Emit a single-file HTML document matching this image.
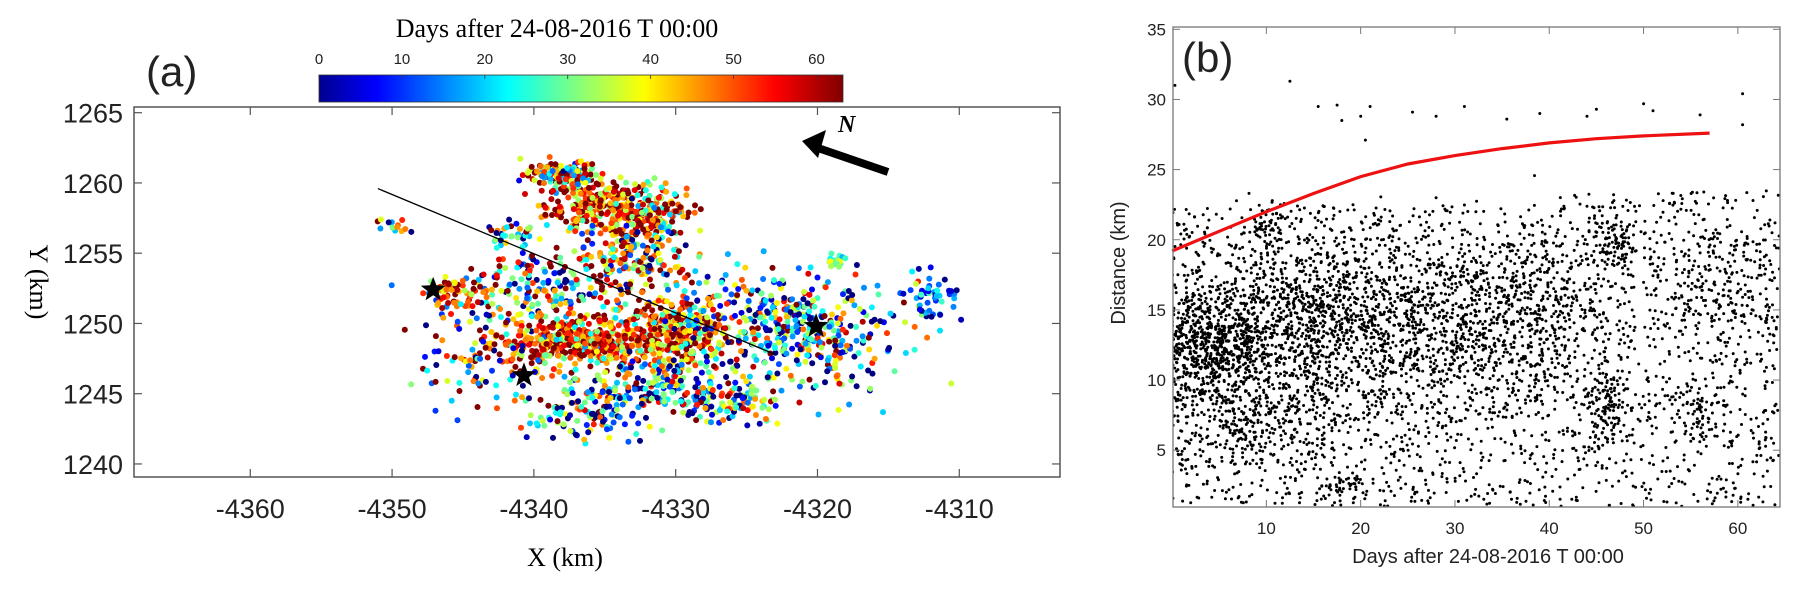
<!DOCTYPE html>
<html><head><meta charset="utf-8">
<style>
html,body{margin:0;padding:0;background:#fff;}
svg{display:block;}
text{font-family:"Liberation Sans",sans-serif;fill:#222;}
.serif{font-family:"Liberation Serif",serif;fill:#000;}
</style></head><body>
<svg id="chart" width="1799" height="590" viewBox="0 0 1799 590" xmlns="http://www.w3.org/2000/svg">
<defs>
<linearGradient id="jet" x1="0" x2="1" y1="0" y2="0">
<stop offset="0" stop-color="#00008f"/><stop offset="0.11" stop-color="#0000ff"/>
<stop offset="0.36" stop-color="#00ffff"/><stop offset="0.62" stop-color="#ffff00"/>
<stop offset="0.87" stop-color="#ff0000"/><stop offset="1" stop-color="#800000"/>
</linearGradient>
<clipPath id="clipA"><rect x="134" y="107" width="926" height="370"/></clipPath>
<clipPath id="clipB"><rect x="1173" y="27" width="607" height="480"/></clipPath>
</defs>
<g id="panelA"></g>
<g id="panelB"></g>
</svg>
<script>
// ---------- Panel A data ----------
const aXTicks = [-4360, -4350, -4340, -4330, -4320, -4310];
const aYTicks = [1240, 1245, 1250, 1255, 1260, 1265];
const cbTicks = [0, 10, 20, 30, 40, 50, 60];
// clusters: [x, y, sx, sy, count, dayMean, daySpread]
const aClusters = [
 [-4338,1260.6,1.4,0.5,130,45,22],
 [-4335.5,1258.3,1.8,0.9,250,52,14],
 [-4331.5,1258.0,1.4,1.1,130,45,20],
 [-4333,1254.8,1.8,1.5,190,38,24],
 [-4339.5,1252.5,2.8,1.4,180,28,26],
 [-4337,1248.7,2.8,0.9,430,50,14],
 [-4330,1249.3,1.8,1.1,300,50,15],
 [-4325,1250.5,3.0,1.8,220,25,25],
 [-4319.5,1249,2.8,1.9,240,25,25],
 [-4332,1245.5,3.2,1.4,230,22,22],
 [-4337,1243.5,1.8,0.9,90,20,25],
 [-4345.5,1252.2,1.0,0.7,60,52,10],
 [-4344,1248,2.2,1.8,80,32,30],
 [-4312,1252,0.9,1.0,50,15,10],
 [-4318.5,1254.4,0.35,0.3,25,30,5],
 [-4350,1256.9,0.7,0.3,14,22,20],
 [-4326,1244.6,2.0,0.8,90,25,25],
 [-4341.5,1256.2,1.0,0.6,30,20,20]
];
const stars = [[-4347.1,1252.4],[-4340.7,1246.3],[-4320.1,1249.8]];
const faultLine = [[-4351,1259.6],[-4323,1247.8]];
// ---------- Panel B data ----------
const bXTicks = [10, 20, 30, 40, 50, 60];
const bYTicks = [5, 10, 15, 20, 25, 30, 35];
const curveDays = [0, 5, 10, 15, 20, 25, 30, 35, 40, 45, 50, 57];
const curveDist = [19.2, 20.6, 22.0, 23.3, 24.5, 25.4, 26.0, 26.5, 26.9, 27.2, 27.4, 27.6];
// clusters: [day, dist, sday, sdist, count]
const bClusters = [
 [4,12.5,3.5,2.0,750],
 [15,14.2,5.5,3.0,850],
 [30,14.0,7,3.2,700],
 [40,14.5,4,3,250],
 [47,19.6,1.5,1.0,100],
 [46,8.0,1.3,1.5,120],
 [55.5,8.0,1.8,1.0,80],
 [10,21.2,1.0,1.0,40],
 [8,7.0,5,2.0,300],
 [58,17,4,2.5,180],
 [18,2.2,2,0.6,45]
];
const bBackground = 2200;
const bOutliers = [[0.3,31],[12.5,31.3],[15.5,29.5],[17.5,29.6],[20,28.8],[21,29.5],[25.5,29.1],[28,28.8],[31,29.5],[35.5,28.6],[39,29],[44,28.8],[45,29.3],[50,29.7],[51,29.2],[56,28.9],[60.5,30.4],[60.5,28.2],[18,28.5],[20.5,27.1]];

const NS='http://www.w3.org/2000/svg';
function mk(tag,attrs,parent){const e=document.createElementNS(NS,tag);for(const k in attrs)e.setAttribute(k,attrs[k]);parent.appendChild(e);return e;}
let seed=12345;function rnd(){seed=(seed*1103515245+12345)%2147483648;return seed/2147483648;}
function gauss(){let u=rnd()||1e-9,v=rnd();return Math.sqrt(-2*Math.log(u))*Math.cos(2*Math.PI*v);}
function jet(t){t=Math.max(0,Math.min(1,t));
 const r=Math.max(0,Math.min(1,1.5-Math.abs(4*t-3))),g=Math.max(0,Math.min(1,1.5-Math.abs(4*t-2))),b=Math.max(0,Math.min(1,1.5-Math.abs(4*t-1)));
 return 'rgb('+Math.round(r*255)+','+Math.round(g*255)+','+Math.round(b*255)+')';}

// ---------- Panel A ----------
const A=document.getElementById('panelA');
const ax=v=>134+(v+4368.2)*14.18;
const ay=v=>112.7+(1265-v)*14.05;
const dayMax=63.2;
const cbx=d=>319+d*(524/dayMax);
let t=mk('text',{x:557,y:37,'font-size':26,'text-anchor':'middle',class:'serif'},A);t.textContent='Days after 24-08-2016 T 00:00';

let cb=mk('rect',{x:319,y:75,width:524,height:27,fill:'url(#jet)',stroke:'#333','stroke-width':0.8},A);

cbTicks.forEach(d=>{let e=mk('text',{x:cbx(d),y:64,'font-size':15,'text-anchor':'middle'},A);e.textContent=d;
 
 mk('line',{x1:cbx(d),x2:cbx(d),y1:75,y2:79,stroke:'#333','stroke-width':0.8},A);});
t=mk('text',{x:146,y:86,'font-size':42},A);t.textContent='(a)';

const gA=mk('g',{'clip-path':'url(#clipA)'},A);

aClusters.forEach(c=>{for(let i=0;i<c[4];i++){
 const x=c[0]+gauss()*c[2],y=c[1]+gauss()*c[3];let d=c[5]+gauss()*c[6];d=Math.max(0,Math.min(dayMax,d));
 mk('circle',{cx:ax(x).toFixed(1),cy:ay(y).toFixed(1),r:3.0,fill:jet(d/dayMax)},gA);}});
let fl=mk('line',{x1:ax(faultLine[0][0]),y1:ay(faultLine[0][1]),x2:ax(faultLine[1][0]),y2:ay(faultLine[1][1]),stroke:'#000','stroke-width':1.3},A);

function star(cx,cy,R){let p='';for(let i=0;i<10;i++){const r=i%2?R*0.42:R,a=-Math.PI/2+i*Math.PI/5;p+=(cx+r*Math.cos(a)).toFixed(1)+','+(cy+r*Math.sin(a)).toFixed(1)+' ';}return p;}
stars.forEach(s=>{const e=mk('polygon',{points:star(ax(s[0]),ay(s[1]),13),fill:'#000'},A);
 });
let na=mk('g',{},A);
mk('line',{x1:888,y1:172,x2:818,y2:148,stroke:'#000','stroke-width':8},na);
mk('polygon',{points:'802,141 826,130 818,158',fill:'#000'},na);
t=mk('text',{x:838,y:132,'font-size':24,'font-style':'italic','font-weight':'bold',class:'serif'},na);t.textContent='N';
let bx=mk('rect',{x:134,y:107,width:926,height:370,fill:'none',stroke:'#555','stroke-width':1.5},A);

aXTicks.forEach(v=>{const x=ax(v);mk('line',{x1:x,x2:x,y1:477,y2:469,stroke:'#555','stroke-width':1.2},A);mk('line',{x1:x,x2:x,y1:107,y2:115,stroke:'#555','stroke-width':1.2},A);
 const e=mk('text',{x:x,y:518,'font-size':27,'text-anchor':'middle'},A);e.textContent=v;
 });
aYTicks.forEach(v=>{const y=ay(v);mk('line',{x1:134,x2:142,y1:y,y2:y,stroke:'#555','stroke-width':1.2},A);mk('line',{x1:1060,x2:1052,y1:y,y2:y,stroke:'#555','stroke-width':1.2},A);
 const e=mk('text',{x:123,y:y+10,'font-size':27,'text-anchor':'end'},A);e.textContent=v;
 });
t=mk('text',{x:565,y:566,'font-size':26,'text-anchor':'middle',class:'serif'},A);t.textContent='X (km)';

t=mk('text',{x:0,y:0,'font-size':26,'text-anchor':'middle',class:'serif',transform:'translate(30,282) rotate(90)'},A);t.textContent='Y (km)';


// ---------- Panel B ----------
const B=document.getElementById('panelB');
const bx_=v=>1173+(v-0.1)*9.43;
const by=v=>29.3+(35-v)*14.03;
const gB=mk('g',{'clip-path':'url(#clipB)'},B);

function dotB(d,r){mk('circle',{cx:bx_(d).toFixed(1),cy:by(r).toFixed(1),r:1.5,fill:'#000'},gB);}
for(let i=0;i<bBackground;i++){const d=rnd()*64.4;const r=1+rnd()*(d<40?21.5:22.5);dotB(d,r);}
bClusters.forEach(c=>{for(let i=0;i<c[4];i++){dotB(c[0]+gauss()*c[2],c[1]+gauss()*c[3]);}});
bOutliers.forEach(o=>dotB(o[0],o[1]));
let pts=curveDays.map((d,i)=>bx_(d).toFixed(1)+','+by(curveDist[i]).toFixed(1)).join(' ');
let pl=mk('polyline',{points:pts,fill:'none',stroke:'#ee1111','stroke-width':3.2},B);

let bb=mk('rect',{x:1173,y:27,width:607,height:480,fill:'none',stroke:'#777','stroke-width':1.3},B);

bXTicks.forEach(v=>{const x=bx_(v);mk('line',{x1:x,x2:x,y1:507,y2:500,stroke:'#777'},B);mk('line',{x1:x,x2:x,y1:27,y2:34,stroke:'#777'},B);
 const e=mk('text',{x:x,y:534,'font-size':17,'text-anchor':'middle'},B);e.textContent=v;
 });
bYTicks.forEach(v=>{const y=by(v);mk('line',{x1:1173,x2:1180,y1:y,y2:y,stroke:'#777'},B);mk('line',{x1:1780,x2:1773,y1:y,y2:y,stroke:'#777'},B);
 const e=mk('text',{x:1166,y:y+6,'font-size':17,'text-anchor':'end'},B);e.textContent=v;
 });
t=mk('text',{x:1488,y:563,'font-size':20,'text-anchor':'middle'},B);t.textContent='Days after 24-08-2016 T 00:00';

t=mk('text',{x:0,y:0,'font-size':20,'text-anchor':'middle',transform:'translate(1125,263) rotate(-90)'},B);t.textContent='Distance (km)';

t=mk('text',{x:1182,y:72,'font-size':42},B);t.textContent='(b)';

</script>
</body></html>
